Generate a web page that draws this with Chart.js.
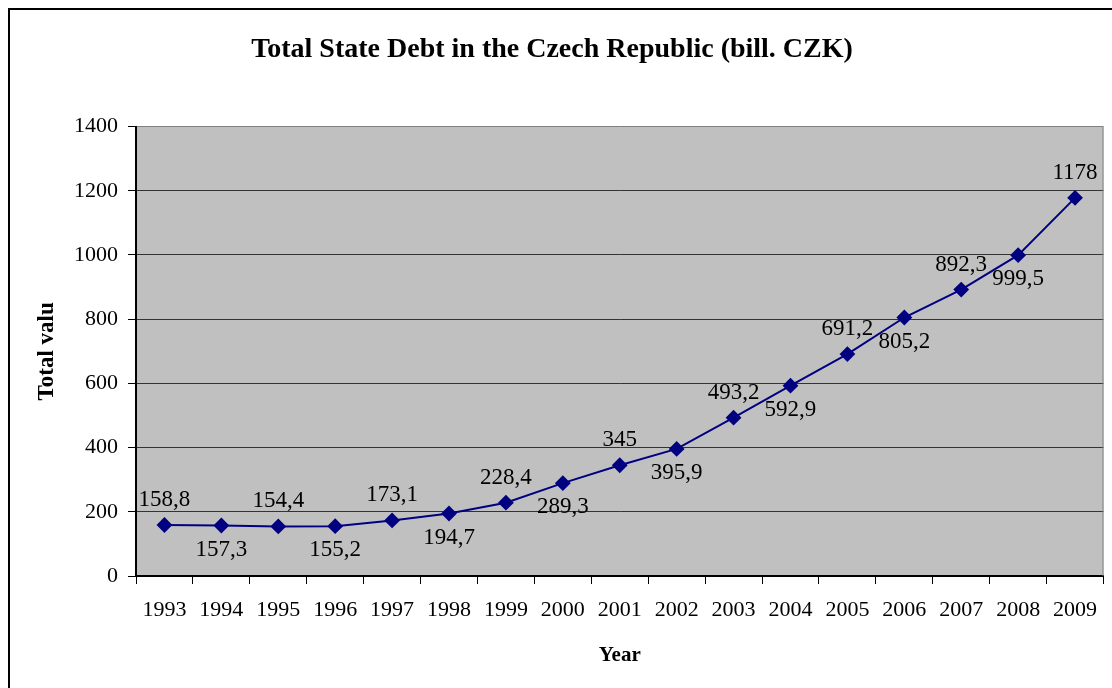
<!DOCTYPE html>
<html>
<head>
<meta charset="utf-8">
<title>Total State Debt in the Czech Republic</title>
<script src="https://cdn.jsdelivr.net/npm/chart.js@4"></script>
<style>
    html, body { margin: 0; padding: 0; background: #fff; }
    #wrap { width: 1112px; height: 688px; }
</style>
</head>
<body>
<div id="wrap"><canvas id="debtChart" width="1112" height="688"></canvas></div>
<script>
const years = ['1993', '1994', '1995', '1996', '1997', '1998', '1999', '2000', '2001',
    '2002', '2003', '2004', '2005', '2006', '2007', '2008', '2009'];
const debtValues = [158.8, 157.3, 154.4, 155.2, 173.1, 194.7, 228.4, 289.3, 345,
    395.9, 493.2, 592.9, 691.2, 805.2, 892.3, 999.5, 1178];
const yTicks = [0, 200, 400, 600, 800, 1000, 1200, 1400];

const serif = '"Liberation Serif", "Times New Roman", serif';

// grey plot area + the outer frame of the picture
const backdrop = {
    id: 'backdrop',
    beforeDraw(chart) {
        const { ctx, chartArea: a } = chart;
        ctx.save();
        ctx.fillStyle = '#c0c0c0';
        ctx.fillRect(a.left, a.top, a.right - a.left, a.bottom - a.top);
        ctx.strokeStyle = '#000';
        ctx.lineWidth = 2;
        ctx.beginPath();
        ctx.moveTo(9, chart.height);
        ctx.lineTo(9, 9);
        ctx.lineTo(chart.width, 9);
        ctx.stroke();
        ctx.restore();
    },
    afterDraw(chart) {
        // grey right edge of the plot area
        const { ctx, chartArea: a } = chart;
        ctx.save();
        ctx.strokeStyle = '#808080';
        ctx.lineWidth = 1;
        ctx.beginPath();
        ctx.moveTo(a.right - 0.5, a.top);
        ctx.lineTo(a.right - 0.5, a.bottom);
        ctx.stroke();
        ctx.restore();
    }
};

// value labels, alternating above / below the points
const valueLabels = {
    id: 'valueLabels',
    afterDatasetsDraw(chart) {
        const { ctx } = chart;
        const meta = chart.getDatasetMeta(0);
        ctx.save();
        ctx.font = '23px ' + serif;
        ctx.fillStyle = '#000';
        ctx.textAlign = 'center';
        ctx.textBaseline = 'middle';
        meta.data.forEach((pt, i) => {
            const txt = String(debtValues[i]).replace('.', ',');
            const dy = i % 2 === 0 ? -25 : 24;
            ctx.fillText(txt, pt.x, pt.y + dy);
        });
        ctx.restore();
    }
};

new Chart(document.getElementById('debtChart'), {
    type: 'line',
    data: {
        labels: years,
        datasets: [{
            label: 'Total value',
            data: debtValues,
            borderColor: '#000080',
            backgroundColor: '#000080',
            borderWidth: 2,
            tension: 0,
            pointStyle: 'rectRot',
            pointRadius: 6.5,
            pointHoverRadius: 6.5,
            pointBackgroundColor: '#000080',
            pointBorderColor: '#000080'
        }]
    },
    options: {
        responsive: false,
        animation: false,
        layout: { padding: { left: 0, top: 0, right: 8, bottom: 0 } },
        plugins: {
            legend: { display: false },
            tooltip: { enabled: false },
            title: {
                display: true,
                text: 'Total State Debt in the Czech Republic (bill. CZK)',
                color: '#000',
                font: { family: serif, size: 28, weight: 'bold' },
                padding: { top: 33, bottom: 60 }
            }
        },
        scales: {
            x: {
                offset: true,
                afterFit: (scale) => { scale.height = 112; },
                grid: {
                    offset: true,
                    drawOnChartArea: false,
                    drawTicks: true,
                    tickLength: 8,
                    color: '#000'
                },
                border: { color: '#000', width: 2 },
                ticks: {
                    color: '#000',
                    padding: 13,
                    maxRotation: 0,
                    autoSkip: false,
                    font: { family: serif, size: 22 }
                },
                title: {
                    display: true,
                    text: 'Year',
                    color: '#000',
                    font: { family: serif, size: 21, weight: 'bold' },
                    padding: { top: 0, bottom: 20 }
                }
            },
            y: {
                min: yTicks[0],
                max: yTicks[yTicks.length - 1],
                afterFit: (scale) => { scale.width = 136; },
                afterBuildTicks: (scale) => { scale.ticks = yTicks.map(v => ({ value: v })); },
                grid: {
                    color: (c) => c.tick && c.tick.value === 1400 ? '#808080' : '#333',
                    tickColor: '#000',
                    tickLength: 8,
                    lineWidth: 1
                },
                border: { color: '#000', width: 2 },
                ticks: {
                    color: '#000',
                    padding: 10,
                    font: { family: serif, size: 22 },
                    callback: (v) => String(v)
                },
                title: {
                    display: true,
                    text: 'Total valu',
                    color: '#000',
                    font: { family: serif, size: 23, weight: 'bold' },
                    padding: { top: 33, bottom: 0 }
                }
            }
        }
    },
    plugins: [backdrop, valueLabels]
});
</script>
</body>
</html>
